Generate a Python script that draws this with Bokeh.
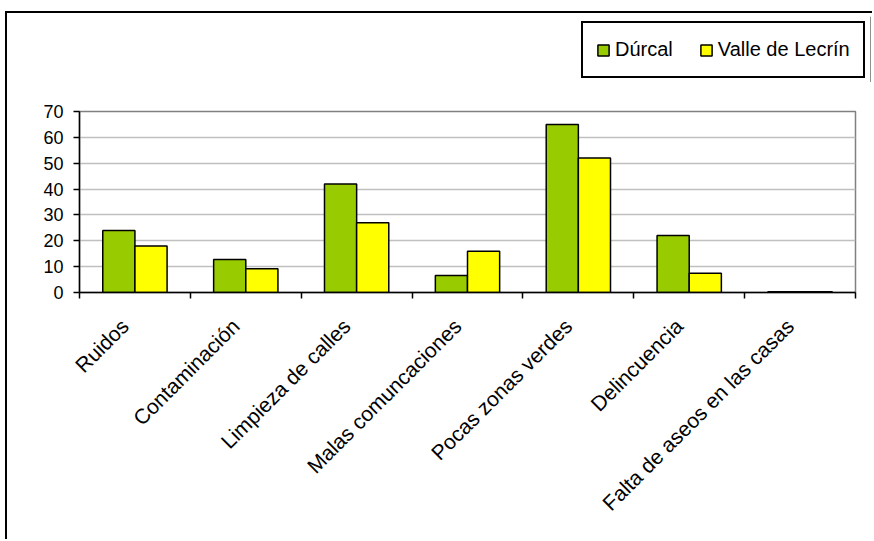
import math
from bokeh.plotting import figure
from bokeh.layouts import column, row
from bokeh.models import (ColumnDataSource, FixedTicker, Legend, LegendItem, Range1d, Spacer)
from bokeh.embed import file_html
from bokeh.resources import INLINE

categories = ["Ruidos", "Contaminación", "Limpieza de calles", "Malas comuncaciones",
              "Pocas zonas verdes", "Delincuencia", "Falta de aseos en las casas"]
durcal = [24, 12.8, 42, 6.6, 65, 22, 0.3]
valle = [18, 9.2, 27, 16, 52, 7.4, 0.3]
series_names = ["Dúrcal", "Valle de Lecrín"]
y_ticks = [0, 10, 20, 30, 40, 50, 60, 70]

FONT = "Liberation Sans"
GREEN = "#99CC00"
YELLOW = "#FFFF00"

idx = list(range(len(categories)))
src = ColumnDataSource(dict(
    xg=[i + 0.355 for i in idx],
    xy=[i + 0.645 for i in idx],
    durcal=durcal,
    valle=valle,
))

# ---- main chart ----
p = figure(width=865, height=457, output_backend="svg", toolbar_location=None,
           x_range=Range1d(0, len(categories)), y_range=Range1d(0, 70),
           min_border_left=72, min_border_right=17, min_border_top=29, min_border_bottom=247)

p.vbar(x="xg", top="durcal", width=0.29, source=src, fill_color=GREEN,
       line_color="black", line_width=1.5)
p.vbar(x="xy", top="valle", width=0.29, source=src, fill_color=YELLOW,
       line_color="black", line_width=1.5)

label_pos = [i + 0.41 for i in idx]
p.xaxis.ticker = FixedTicker(ticks=label_pos, minor_ticks=list(range(len(categories) + 1)))
p.xaxis.major_label_overrides = {x: c for x, c in zip(label_pos, categories)}
p.xaxis.major_label_orientation = math.pi / 4
p.xaxis.major_tick_out = 0
p.xaxis.major_tick_in = 0
p.xaxis.minor_tick_out = 6
p.xaxis.minor_tick_in = 0
p.xaxis.minor_tick_line_color = "black"
p.xaxis.minor_tick_line_width = 1.5
p.xaxis.axis_line_color = "black"
p.xaxis.axis_line_width = 1.5
p.xaxis.major_label_text_font = FONT
p.xaxis.major_label_text_font_size = "21px"
p.xaxis.major_label_text_color = "black"
p.xaxis.major_label_standoff = 24

p.yaxis.ticker = FixedTicker(ticks=y_ticks)
p.yaxis.major_tick_out = 6
p.yaxis.major_tick_in = 0
p.yaxis.minor_tick_out = 0
p.yaxis.minor_tick_in = 0
p.yaxis.major_tick_line_color = "black"
p.yaxis.major_tick_line_width = 1.5
p.yaxis.axis_line_color = "black"
p.yaxis.axis_line_width = 1.5
p.yaxis.major_label_text_font = FONT
p.yaxis.major_label_text_font_size = "18px"
p.yaxis.major_label_text_color = "black"
p.yaxis.major_label_standoff = 10

p.xgrid.grid_line_color = None
p.ygrid.grid_line_color = "#c0c0c0"
p.ygrid.grid_line_width = 1.5
p.outline_line_color = "#808080"
p.outline_line_width = 1.5
p.background_fill_color = "white"
p.border_fill_color = "white"

# ---- legend box (separate small figure) ----
lf = figure(width=292, height=66, output_backend="svg", toolbar_location=None,
            x_range=Range1d(0, 1), y_range=Range1d(0, 1),
            x_axis_type=None, y_axis_type=None, min_border=0)
lf.grid.visible = False
lf.outline_line_color = None
lf.background_fill_color = "white"
lf.border_fill_color = "white"
# off-range dummy marks, used only for the legend swatches
g1 = lf.vbar(x=[5], top=[5], width=0.1, fill_color=GREEN, line_color="black", line_width=1.5)
g2 = lf.vbar(x=[5], top=[5], width=0.1, fill_color=YELLOW, line_color="black", line_width=1.5)

legend = Legend(items=[LegendItem(label=series_names[0], renderers=[g1]),
                       LegendItem(label=series_names[1], renderers=[g2])],
                location=(2, 4), orientation="horizontal")
legend.label_text_font = FONT
legend.label_text_font_size = "20px"
legend.label_text_color = "black"
legend.glyph_width = 14
legend.glyph_height = 14
legend.label_standoff = 5
legend.spacing = 26
legend.padding = 13
legend.margin = 0
legend.label_height = 27
legend.border_line_color = "black"
legend.border_line_alpha = 1
legend.border_line_width = 2
legend.background_fill_alpha = 1
lf.add_layout(legend, "center")

layout = column(Spacer(height=3),
                row(Spacer(width=572), lf),
                p)
layout.styles = {"margin-left": "5px", "margin-top": "11px",
                 "border-left": "2px solid black", "border-top": "2px solid black"}

open("out.html", "w").write(file_html(layout, INLINE))
